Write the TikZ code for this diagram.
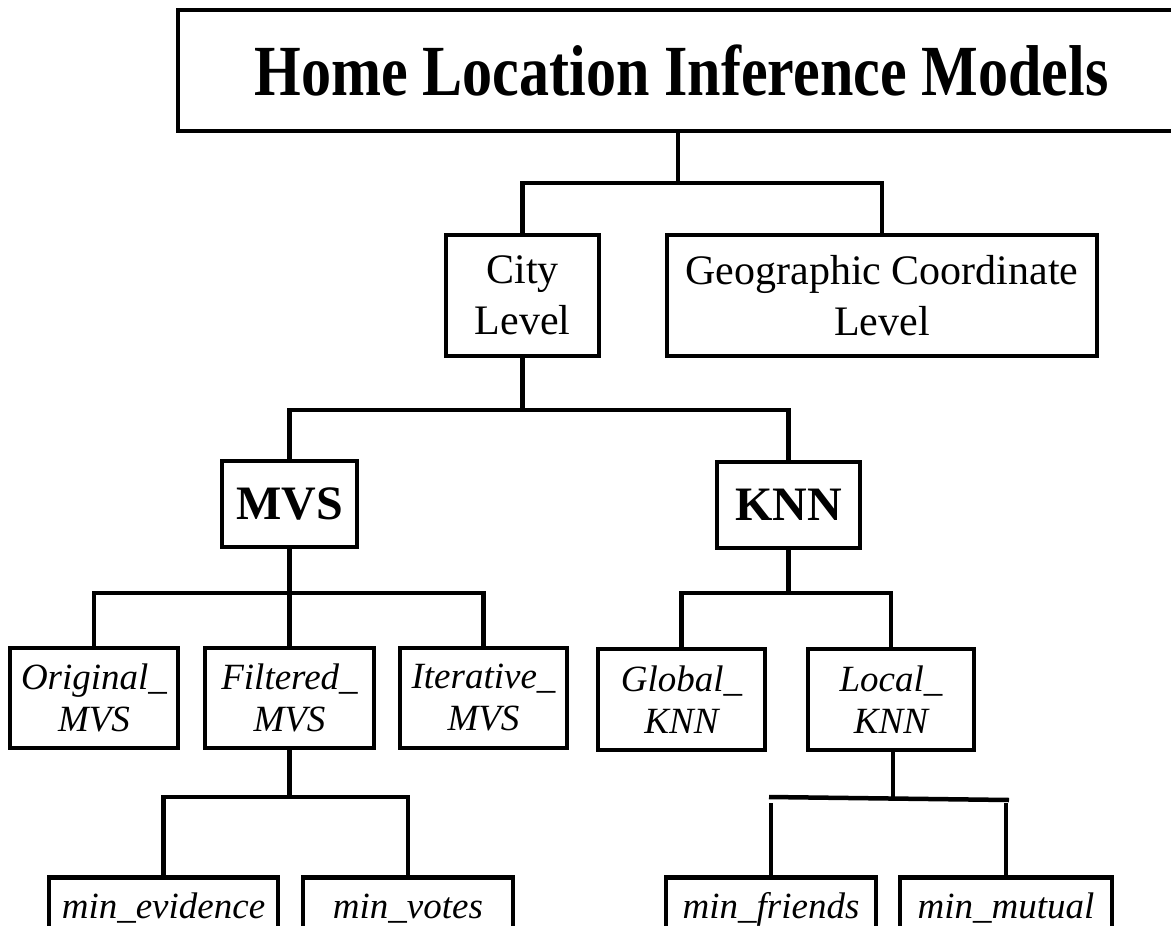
\documentclass[tikz,border=0pt]{standalone}
\usepackage{fontspec}
\setmainfont{Liberation Serif}
\usepackage{graphicx}
\begin{document}
\begin{tikzpicture}[x=1pt,y=-1pt,
  box/.style={draw=black, line width=4.5pt, inner sep=0pt, align=center},
  conn/.style={draw=black, line width=4.5pt},
  reg/.style={font=\fontsize{42}{51}\selectfont},
  bld/.style={font=\fontsize{48}{56}\selectfont\bfseries},
  itl/.style={font=\fontsize{37}{42}\selectfont\itshape},
  bot/.style={box, itl, text height=25pt, text depth=8pt, minimum height=66pt}
]
\useasboundingbox (0,0) rectangle (1171,926);
\clip (0,0) rectangle (1171,926);
\fill[white] (0,0) rectangle (1171,926);

% level 0
\node[box, minimum width=1007pt, minimum height=121pt] (title) at (681.5,70.5)
  {\scalebox{0.834}[1]{\fontsize{72}{80}\selectfont\bfseries Home Location Inference Models}};

% level 1
\node[box, reg, minimum width=153pt, minimum height=121pt] (city) at (522.5,295.5) {City\\Level};
\node[box, reg, minimum width=430pt, minimum height=121pt] (geo) at (882,295.5) {Geographic Coordinate\\Level};

% level 2
\node[box, bld, minimum width=135pt, minimum height=86pt] (mvs) at (289.5,504) {MVS};
\node[box, bld, minimum width=143pt, minimum height=86pt] (knn) at (788.5,505) {KNN};

% level 3
\node[box, itl, minimum width=168pt, minimum height=100pt] (orig) at (94,698) {Original\_\\MVS};
\node[box, itl, minimum width=169pt, minimum height=100pt] (filt) at (289.5,698) {Filtered\_\\MVS};
\node[box, itl, minimum width=167pt, minimum height=100pt] (iter) at (483.5,698) {Iterative\_\\MVS};
\node[box, itl, minimum width=167pt, minimum height=101pt] (glob) at (681.5,699.5) {Global\_\\KNN};
\node[box, itl, minimum width=166pt, minimum height=101pt] (loc) at (891,699.5) {Local\_\\KNN};

% level 4
\node[bot, minimum width=229pt, anchor=north] (mine) at (163.5,875) {min\_evidence};
\node[bot, minimum width=210pt, anchor=north] (minv) at (408,875) {min\_votes};
\node[bot, minimum width=210pt, anchor=north] (minf) at (771,875) {min\_friends};
\node[bot, minimum width=212pt, anchor=north] (minm) at (1006,875) {min\_mutual};

% connectors
\draw[conn] (title.south -| 678,0) -- (678,183);
\draw[conn] (city.north) |- (geo.north |- 0,183) -- (geo.north);

\draw[conn] (city.south) -- (city.south |- 0,410);
\draw[conn] (mvs.north) |- (knn.north |- 0,410) -- (knn.north);

\draw[conn] (mvs.south) -- (filt.north);
\draw[conn] (orig.north) |- (iter.north |- 0,593) -- (iter.north);

\draw[conn] (knn.south) -- (knn.south |- 0,593);
\draw[conn] (glob.north) |- (loc.north |- 0,593) -- (loc.north);

\draw[conn] (filt.south) -- (filt.south |- 0,797);
\draw[conn] (mine.north) |- (minv.north |- 0,797) -- (minv.north);

\coordinate (lbl) at (769,797);
\coordinate (lbr) at (1009,800);
\draw[conn] (loc.south -| 893,0) -- (893,798.5);
\draw[conn] (lbl) -- (lbr);
\draw[conn] (minf.north) -- (minf.north |- 0,803);
\draw[conn] (minm.north) -- (minm.north |- 0,803);
\end{tikzpicture}
\end{document}
